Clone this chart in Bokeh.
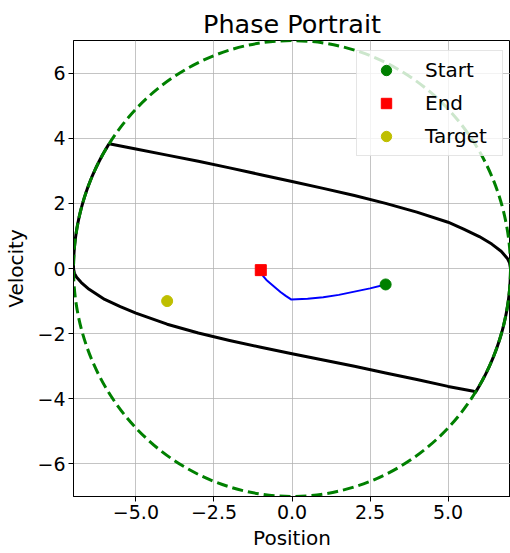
import numpy as np
from bokeh.plotting import figure
from bokeh.models import Range1d, FixedTicker, CustomJSTickFormatter
from bokeh.embed import file_html
from bokeh.resources import INLINE

# ---- data ----
limit_radius = 7.0

upper_x = [-5.86, -5.0, -4.0, -3.0, -2.0, -1.0, 0.0, 1.0, 2.0, 3.0, 4.0, 5.0, 5.5, 6.0, 6.4, 6.7, 6.9, 6.97, 7.0]
upper_y = [3.83, 3.67, 3.48, 3.29, 3.09, 2.88, 2.67, 2.46, 2.24, 2.00, 1.73, 1.42, 1.21, 0.98, 0.75, 0.53, 0.31, 0.17, 0.0]

lower_x = [-7.0, -6.97, -6.9, -6.75, -6.5, -6.0, -5.5, -5.0, -4.0, -3.0, -2.0, -1.0, 0.0, 1.0, 2.0, 3.0, 4.0, 5.0, 5.82]
lower_y = [0.0, -0.15, -0.27, -0.43, -0.64, -0.95, -1.17, -1.37, -1.71, -1.98, -2.21, -2.42, -2.62, -2.81, -3.00, -3.21, -3.41, -3.62, -3.77]

traj_x = [3.0, 2.5, 2.0, 1.5, 1.0, 0.5, -0.03, -0.2, -0.37, -0.53, -0.69, -0.82, -0.91, -0.97, -1.0]
traj_y = [-0.49, -0.61, -0.71, -0.81, -0.88, -0.93, -0.95, -0.84, -0.72, -0.59, -0.46, -0.35, -0.25, -0.15, -0.05]

start_x, start_y = [3.0], [-0.49]
end_x, end_y = [-1.0], [-0.05]
target_x, target_y = [-4.0], [-1.0]

x_ticks = [-5.0, -2.5, 0.0, 2.5, 5.0]
y_ticks = [-6, -4, -2, 0, 2, 4, 6]

title_text = "Phase Portrait"
x_label = "Position"
y_label = "Velocity"

# ---- boundary: curves joined by arcs of the limit circle ----
def arc_points(a0, a1, n=40):
    a = np.linspace(a0, a1, n)
    return list(limit_radius * np.cos(a)), list(limit_radius * np.sin(a))

# right arc: (7,0) down to the end of the lower curve
rax, ray = arc_points(0.0, np.arctan2(lower_y[-1], lower_x[-1]))
# left arc: (-7,0) up to the start of the upper curve
lax, lay = arc_points(np.pi, np.arctan2(upper_y[0], upper_x[0]))

bx = upper_x + rax + lower_x[::-1] + lax
by = upper_y + ray + lower_y[::-1] + lay

FONT = "DejaVu Sans"

p = figure(
    width=510, height=553,
    frame_width=437, frame_height=456,
    min_border_left=73, min_border_right=0, min_border_top=40, min_border_bottom=57,
    x_range=Range1d(-7, 7), y_range=Range1d(-7, 7),
    output_backend="svg", toolbar_location=None,
    title=title_text,
)
p.background_fill_color = "white"
p.border_fill_color = "white"
p.outline_line_color = "black"
p.outline_line_width = 1

p.title.text_font = FONT
p.title.text_font_size = "25.5px"
p.title.text_font_style = "normal"
p.title.align = "center"
p.title.text_color = "black"
p.title.standoff = 4

for ax in (p.xaxis[0], p.yaxis[0]):
    ax.axis_label_text_font = FONT
    ax.axis_label_text_font_size = "20px"
    ax.axis_label_text_font_style = "normal"
    ax.axis_label_text_color = "black"
    ax.major_label_text_font = FONT
    ax.major_label_text_font_size = "19px"
    ax.major_label_text_color = "black"
    ax.axis_line_color = "black"
    ax.major_tick_line_color = "black"
    ax.major_tick_out = 5
    ax.major_tick_in = 0
    ax.minor_tick_line_color = None
    ax.major_label_standoff = 3

p.xaxis.axis_label = x_label
p.yaxis.axis_label = y_label
p.xaxis.axis_label_standoff = 4
p.yaxis.axis_label_standoff = 6
p.xaxis.ticker = FixedTicker(ticks=x_ticks)
p.yaxis.ticker = FixedTicker(ticks=y_ticks)
p.xaxis.formatter = CustomJSTickFormatter(code="return (tick < 0 ? '\u2212' : '') + Math.abs(tick).toFixed(1);")
p.yaxis.formatter = CustomJSTickFormatter(code="return (tick < 0 ? '\u2212' : '') + Math.abs(tick).toFixed(0);")

p.grid.grid_line_color = "#b0b0b0"
p.grid.grid_line_width = 1
p.grid.grid_line_alpha = 0.75

# boundary (black)
p.line(bx, by, line_color="black", line_width=3, line_join="round")
# limit circle (green dashed)
p.ellipse(x=[0], y=[0], width=[2 * limit_radius], height=[2 * limit_radius],
          fill_color=None, line_color="green", line_width=3, line_dash="11 5")
# trajectory
p.line(traj_x, traj_y, line_color="blue", line_width=2, line_join="round")

p.scatter(start_x, start_y, marker="circle", size=11, color="green", legend_label="Start")
p.scatter(end_x, end_y, marker="square", size=11, color="red", legend_label="End")
p.scatter(target_x, target_y, marker="circle", size=11, color="#bfbf00", legend_label="Target")

lg = p.legend[0]
lg.location = (283, 340)
lg.label_text_font = FONT
lg.label_text_font_size = "20px"
lg.label_text_color = "black"
lg.glyph_width = 46
lg.glyph_height = 26
lg.label_height = 26
lg.label_width = 71
lg.label_standoff = 16
lg.spacing = 7
lg.padding = 6
lg.margin = 0
lg.border_line_color = "#cccccc"
lg.border_line_width = 1
lg.background_fill_color = "white"
lg.background_fill_alpha = 0.8

open("out.html", "w").write(file_html(p, INLINE))
